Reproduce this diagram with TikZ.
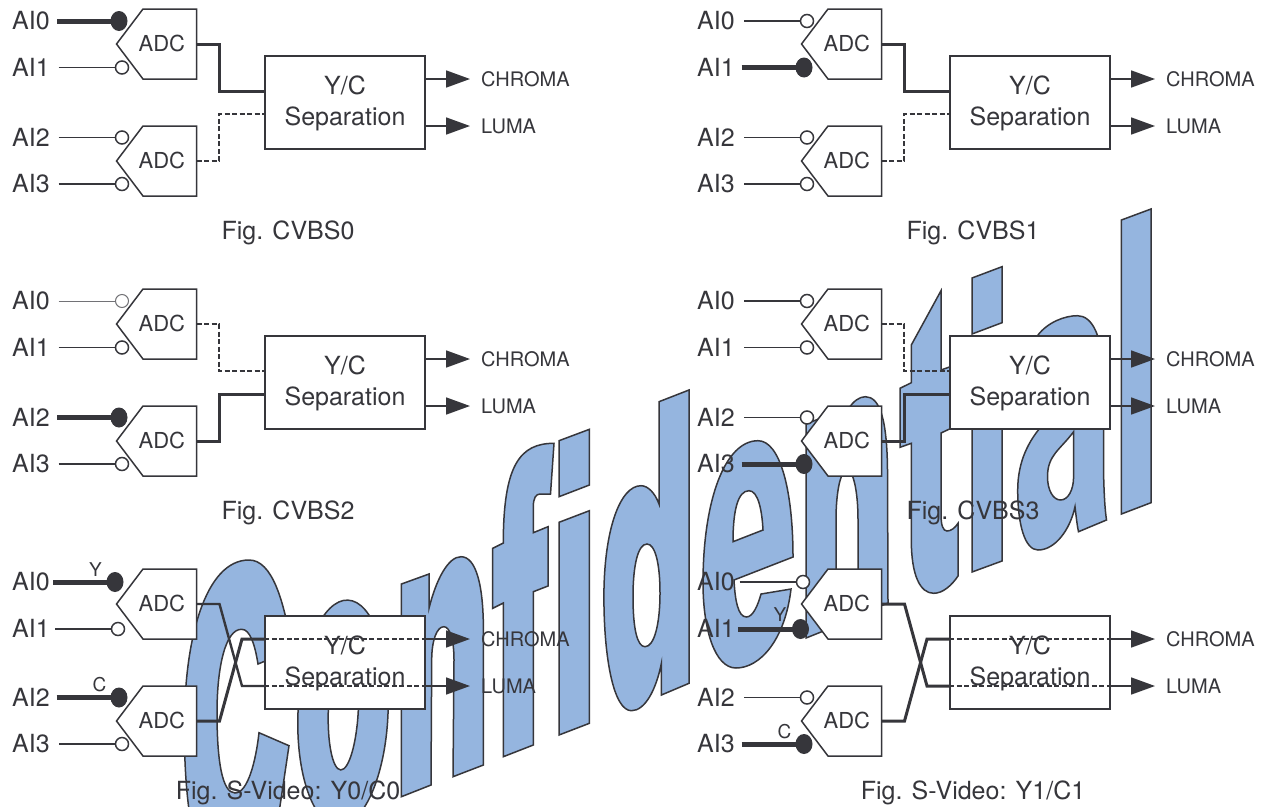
\documentclass[tikz,border=0pt]{standalone}
\usepackage{fontspec}
\setmainfont{TeX Gyre Heros}
\usetikzlibrary{arrows.meta,shapes.geometric,calc}
\definecolor{ink}{HTML}{36363B}
\definecolor{wm}{HTML}{95B5DF}
\tikzset{
  mark letter/.style={draw=ink,line width=1.5pt,fill=wm,even odd rule,line join=miter},
  adcbody/.style={draw=ink,line width=1.5pt,fill=white,line join=miter},
  adclabel/.style={inner sep=0pt,minimum width=69pt,minimum height=30pt,text=ink,font=\fontsize{22}{24}\selectfont},
  ylabel/.style={draw=ink,line width=1.5pt,fill=white,inner sep=0pt,minimum width=160pt,minimum height=93pt,align=center,text=ink,font=\fontsize{25}{32}\selectfont},
  ailab/.style={anchor=west,inner sep=0pt,yshift=.5pt,text=ink,font=\fontsize{25}{28}\selectfont},
  outlab/.style={anchor=west,inner sep=0pt,text=ink,font=\fontsize{20}{22}\selectfont},
  figlab/.style={inner sep=0pt,text=ink,font=\fontsize{25}{28}\selectfont},
  siglab/.style={inner sep=0pt,text=ink,font=\fontsize{19}{21}\selectfont},
  opendot/.style={circle,draw=ink,line width=1.5pt,fill=white,inner sep=0pt,minimum size=13pt},
  fulldot/.style={ellipse,fill=ink,inner sep=0pt,minimum width=17pt,minimum height=20pt},
  thinwire/.style={draw=ink,line width=1.7pt},
  faintwire/.style={draw=ink!70,line width=1pt},
  faintdot/.style={circle,draw=ink!70,line width=1pt,fill=white,inner sep=0pt,minimum size=13pt},
  fatwire/.style={draw=ink,line width=5pt},
  bus/.style={draw=ink,line width=3pt,line join=miter},
  midbus/.style={draw=ink,line width=2.4pt,line join=miter},
  dashbus/.style={draw=ink,line width=1.5pt,dash pattern=on 5pt off 2.5pt},
  outwire/.style={draw=ink,line width=1.7pt,-{Triangle[length=24pt,width=17pt]},shorten >=11pt},
}
\newcommand{\adcunit}[2]{%
  \coordinate (#1r) at (196.5,#2);
  \draw[adcbody] (#1r) ++(0,-35) -- ++(-53.5,0) -- ++(-26.5,35) -- ++(26.5,35) -- ++(53.5,0) -- cycle;
  \node[adclabel,anchor=east] (#1) at (#1r) {\raisebox{-7pt}[0pt][0pt]{ADC}};
}
\newcommand{\commonparts}[2]{%
  \adcunit{#1u}{44}
  \adcunit{#1l}{161}
  \node[ylabel] (#1y) at (345,102.5) {\rule{0pt}{21pt}Y/C\\[-1pt]Separation};
  \node[outlab] (#1c) at (481,79) {CHROMA};
  \node[outlab] (#1m) at (481,126) {LUMA};
  \draw[outwire] ([yshift=23.5pt]#1y.east) -- (#1c.west);
  \draw[outwire] ([yshift=-23.5pt]#1y.east) -- (#1m.west);
  \node[figlab] (#1f) at (288,233) {#2};
}
\newcommand{\inopen}[5]{% name, y, text, xstart, xdot
  \node[ailab] (#1) at (12,#2) {#3};
  \coordinate (#1s) at (#4,#2);
  \node[opendot] (#1d) at (#5,#2) {};
  \draw[thinwire] (#1s) -- (#1d);
}
\newcommand{\inthick}[5]{%
  \node[ailab] (#1) at (12,#2) {#3};
  \coordinate (#1s) at (#4,#2);
  \draw[fatwire] (#1s) -- (#5,#2);
  \node[fulldot] (#1d) at (#5,#2) {};
}
\begin{document}
\begin{tikzpicture}[x=1pt,y=-1pt]
\useasboundingbox (0,0) rectangle (1265,806);
\fill[white] (0,0) rectangle (1265,806);
% watermark
\begin{scope}
\clip (0,0) rectangle (1265,806);
% C
\path[mark letter] (258,664) -- (292,650) .. controls (284,600) and (272,560) .. (249,560)
  .. controls (205,560) and (185,640) .. (184.5,720) .. controls (184,760) and (186,795) .. (192,830)
  -- (276,830) -- (280,806) -- (289,745.7) -- (259,732.7)
  .. controls (256,760) and (248,793) .. (235,793) .. controls (222,793) and (217,760) .. (217,713)
  .. controls (217,665) and (226,629) .. (241.6,629.3) .. controls (250,629) and (255,645) .. (258,664) -- cycle;
% o
\path[mark letter] (343,713) ellipse [x radius=45,y radius=113,rotate=-2.5]
  (343.4,708) ellipse [x radius=15,y radius=62,rotate=-2.5];
% n
\path[mark letter] (401.4,584) -- (429,574) -- (429,608.3) .. controls (436,580) and (448,556.7) .. (461,556.7)
  .. controls (476,556.7) and (483.4,585) .. (483.4,630) -- (483.4,765) -- (453,776.7) -- (454,660)
  .. controls (454,640) and (450,626.7) .. (443.8,626.7) .. controls (437,626.7) and (431.7,640) .. (431.7,660)
  -- (431,785) -- (401.4,796.7) -- cycle;
% f
\path[mark letter] (503.3,756.7) -- (533.3,745) -- (533.3,591.7) -- (548,586) -- (548,526.7) -- (533.3,532.7)
  -- (533.3,506.7) .. controls (533.3,498) and (536,494) .. (540,494) -- (550.5,494) -- (554,443.3)
  .. controls (520,443.3) and (503.3,465) .. (503.3,543) -- (492.7,548.3) -- (492.7,608.3) -- (503.3,603) -- cycle;
% i
\path[mark letter] (559,440.7) -- (589.4,429.3) -- (589.4,485) -- (559,496.7) -- cycle;
\path[mark letter] (559,522.3) -- (589.4,510.7) -- (589.4,723.3) -- (559,735) -- cycle;
% d
\path[mark letter] (659,401.7) -- (689,390) -- (689,683.3) -- (661.4,695) -- (661.4,663.3)
  .. controls (656,690) and (645,710.7) .. (631.4,710.7) .. controls (614,710.7) and (603.9,660) .. (603.9,596.7)
  .. controls (603.9,530) and (620,485.7) .. (641,485.7) .. controls (648,485.7) and (655,493) .. (659,504) -- cycle
  (647,544) .. controls (638,544) and (633,565) .. (633,596.7) .. controls (633,628) and (637,646.7) .. (645,646.7)
  .. controls (654,646.7) and (660,625) .. (660,593) .. controls (660,563) and (655,544) .. (647,544) -- cycle;
% e
\path[mark letter] (793,557) -- (734,580) .. controls (735,600) and (738,617) .. (746.4,617)
  .. controls (753,617) and (758,605) .. (761,594) -- (791,589) .. controls (785,640) and (760,668) .. (736,668)
  .. controls (715,668) and (703,630) .. (703,583) .. controls (703,500) and (725,440.7) .. (758,440.7)
  .. controls (780,440.7) and (793,490) .. (793,557) -- cycle
  (733,541.7) .. controls (733,510) and (738,490.7) .. (749,490.7) .. controls (758,490.7) and (762,510) .. (763,530) -- cycle;
% n
\path[mark letter] (806,424) -- (836,412) -- (836,440) .. controls (842,415) and (853,396.7) .. (865.4,396.7)
  .. controls (880,396.7) and (887,420) .. (887.5,470) -- (888,603) -- (858,615) -- (858,520)
  .. controls (858,490) and (853,470) .. (847,470) .. controls (841,470) and (836,490) .. (836,520)
  -- (836,626) -- (806,638) -- cycle;
% t
\path[mark letter] (941,290.7) -- (911.3,345) -- (911.3,382.7) -- (900,388.3) -- (900,447.3) -- (911.3,443.3)
  -- (911.3,540) .. controls (911.3,575) and (920,593.3) .. (933.7,593.3) .. controls (943,593.3) and (952,585) .. (958,576)
  -- (958,523.3) .. controls (955,528) and (951,531) .. (947,531) .. controls (943,531) and (941,525) .. (941,515)
  -- (941,433) -- (958,425) -- (958,364) -- (941,370) -- cycle;
% i
\path[mark letter] (972,278) -- (1002,266.7) -- (1002,322.7) -- (972,334) -- cycle;
\path[mark letter] (972,362) -- (1002,350) -- (1002,561) -- (972,572) -- cycle;
% a
\path[mark letter] (1038,335) .. controls (1048,322) and (1065,315.7) .. (1077.4,315.7)
  .. controls (1092,315.7) and (1103,335) .. (1103.5,380) -- (1103.5,470) .. controls (1104,495) and (1105,510) .. (1106.5,520)
  -- (1078.5,531.7) .. controls (1077,525) and (1076,515) .. (1075,506.7) .. controls (1070,530) and (1055,550) .. (1038,550)
  .. controls (1025,550) and (1017.7,525) .. (1017.7,490) .. controls (1017.7,460) and (1030,440) .. (1040,428) -- cycle
  (1073.6,431.7) .. controls (1060,450) and (1047.5,455) .. (1047.5,476.7) .. controls (1047.5,490) and (1053,500) .. (1060.6,500)
  .. controls (1068,500) and (1073.6,490) .. (1073.6,476.7) -- cycle;
% l
\path[mark letter] (1121.4,220) -- (1151,209) -- (1151,502.7) -- (1121.4,514) -- cycle;
\end{scope}
% Panel 0
\begin{scope}
\commonparts{a}{Fig. CVBS0}
\inthick{a0}{21}{AI0}{57}{119}
\inopen{a1}{67.5}{AI1}{58.6}{122}
\inopen{a2}{137.5}{AI2}{58.6}{122}
\inopen{a3}{184}{AI3}{58.6}{122}
\draw[bus] (au.east) -- ++(22.5,0) |- ([yshift=11.5pt]ay.west);
\draw[dashbus] (al.east) -- ++(22.5,0) |- ([yshift=-11.5pt]ay.west);
\end{scope}
% Panel 1
\begin{scope}[shift={(685,0)}]
\commonparts{b}{Fig. CVBS1}
\inopen{b0}{21}{AI0}{59}{122}
\inthick{b1}{67.5}{AI1}{56.6}{119}
\inopen{b2}{137.5}{AI2}{59}{122}
\inopen{b3}{184}{AI3}{59}{122}
\draw[bus] (bu.east) -- ++(22.5,0) |- ([yshift=11.5pt]by.west);
\draw[dashbus] (bl.east) -- ++(22.5,0) |- ([yshift=-11.5pt]by.west);
\end{scope}
% Panel 2
\begin{scope}[shift={(0,280)}]
\commonparts{c}{Fig. CVBS2}
\node[ailab] (c0) at (12,21) {AI0};
\coordinate (c0s) at (58.6,21);
\node[faintdot] (c0d) at (122,21) {};
\draw[faintwire] (c0s) -- (c0d);
\inopen{c1}{67.5}{AI1}{58.6}{122}
\inthick{c2}{137.5}{AI2}{57}{119}
\inopen{c3}{184}{AI3}{58.6}{122}
\draw[dashbus] (cu.east) -- ++(22.5,0) |- ([yshift=11.5pt]cy.west);
\draw[bus] (cl.east) -- ++(22.5,0) |- ([yshift=-11.5pt]cy.west);
\end{scope}
% Panel 3
\begin{scope}[shift={(685,280)}]
\commonparts{d}{Fig. CVBS3}
\inopen{d0}{21}{AI0}{59}{122}
\inopen{d1}{67.5}{AI1}{59}{122}
\inopen{d2}{137.5}{AI2}{59}{122}
\inthick{d3}{184}{AI3}{56.6}{119}
\draw[dashbus] (du.east) -- ++(22.5,0) |- ([yshift=11.5pt]dy.west);
\draw[bus] (dl.east) -- ++(22.5,0) |- ([yshift=-11.5pt]dy.west);
\end{scope}
% Panel 4
\begin{scope}[shift={(0,560)}]
\commonparts{e}{Fig. S-Video: Y0/C0}
\inthick{e0}{22}{AI0}{53}{115}
\inopen{e1}{69}{AI1}{55}{118}
\inthick{e2}{137.5}{AI2}{56.5}{119}
\inopen{e3}{184}{AI3}{59}{122}
\node[siglab] (esy) at (95.5,10) {Y};
\node[siglab] (esc) at (99.5,125) {C};
\coordinate (ekl) at (242,126);
\coordinate (eku) at (242,79);
\draw[midbus] (eu.east) -- ++(23,0) -- (ekl) -- ([yshift=-23.5pt]ey.west);
\draw[bus] (el.east) -- ++(23,0) -- (eku) -- ([yshift=23.5pt]ey.west);
\draw[dashbus] ([yshift=23.5pt]ey.west) -- ([yshift=23.5pt]ey.east);
\draw[dashbus] ([yshift=-23.5pt]ey.west) -- ([yshift=-23.5pt]ey.east);
\end{scope}
% Panel 5
\begin{scope}[shift={(685,560)}]
\commonparts{f}{Fig. S-Video: Y1/C1}
\inopen{f0}{22}{AI0}{54.7}{118}
\inthick{f1}{69}{AI1}{52.8}{115.5}
\inopen{f2}{137.5}{AI2}{59}{122}
\inthick{f3}{184}{AI3}{56.6}{119}
\node[siglab] (fsy) at (95,55) {Y};
\node[siglab] (fsc) at (99.5,171.7) {C};
\coordinate (fkl) at (242,126);
\coordinate (fku) at (242,79);
\draw[bus] (fu.east) -- ++(23,0) -- (fkl) -- ([yshift=-23.5pt]fy.west);
\draw[bus] (fl.east) -- ++(23,0) -- (fku) -- ([yshift=23.5pt]fy.west);
\draw[dashbus] ([yshift=23.5pt]fy.west) -- ([yshift=23.5pt]fy.east);
\draw[dashbus] ([yshift=-23.5pt]fy.west) -- ([yshift=-23.5pt]fy.east);
\end{scope}
\end{tikzpicture}
\end{document}
